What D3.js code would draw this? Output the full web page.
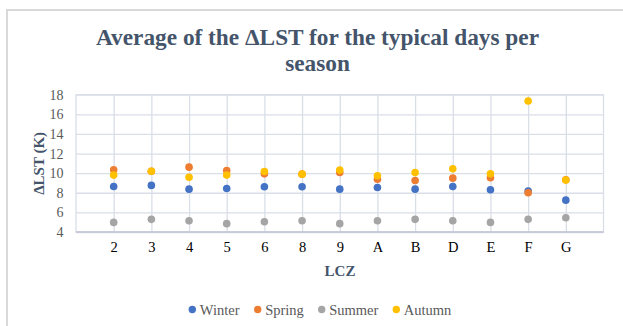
<!DOCTYPE html>
<html>
<head>
<meta charset="utf-8">
<script src="https://cdn.jsdelivr.net/npm/d3@7"></script>
<style>
  html, body { margin: 0; padding: 0; background: #fff; }
  svg { display: block; }
</style>
</head>
<body>
<svg id="chart" width="623" height="326"></svg>
<script>
// Local climate zones on the x axis
const categories = ["2", "3", "4", "5", "6", "8", "9", "A", "B", "D", "E", "F", "G"];

// Seasonal averages of ΔLST (K) per LCZ
const winter = [8.64, 8.75, 8.37, 8.44, 8.61, 8.61, 8.37, 8.54, 8.37, 8.64, 8.31, 8.17, 7.25];
const spring = [10.34, 10.2, 10.61, 10.27, 9.93, 9.9, 10.07, 9.39, 9.25, 9.49, 9.53, 8.0, 9.33];
const summer = [4.98, 5.29, 5.15, 4.85, 5.05, 5.15, 4.85, 5.15, 5.29, 5.15, 4.98, 5.29, 5.46];
const autumn = [9.80, 10.2, 9.59, 9.80, 10.17, 9.90, 10.31, 9.73, 10.07, 10.44, 9.93, 17.36, 9.29];

const seriesNames = ["Winter", "Spring", "Summer", "Autumn"];
const seriesColors = ["#4472C4", "#ED7D31", "#A5A5A5", "#FFC000"];
const yTicks = [4, 6, 8, 10, 12, 14, 16, 18];

const series = [winter, spring, summer, autumn].map((vals, k) => ({
  name: seriesNames[k],
  color: seriesColors[k],
  points: vals.map((v, i) => ({ x: i + 1, y: v }))
}));

const svg = d3.select("#chart");
const serif = "'Liberation Serif', 'Times New Roman', serif";
const titleColor = "#44546A";

// Chart frame
svg.append("rect")
  .attr("x", 7).attr("y", 10)
  .attr("width", 640).attr("height", 340)
  .attr("fill", "#fff")
  .attr("stroke", "#D9D9D9").attr("stroke-width", 2);

const plot = { left: 76, right: 603.5, top: 94.7, bottom: 232 };

const x = d3.scaleLinear().domain([0, categories.length + 1]).range([plot.left, plot.right]);
const y = d3.scaleLinear().domain([4, 18]).range([plot.bottom, plot.top]);

const gridColor = "#D9DEE7";

// Horizontal gridlines and y labels
const yAxis = svg.append("g")
  .attr("transform", `translate(${plot.left},0)`)
  .call(d3.axisLeft(y).tickValues(yTicks).tickSizeInner(-(plot.right - plot.left)).tickSizeOuter(0).tickPadding(12.5));
yAxis.select(".domain").remove();
yAxis.selectAll(".tick line").attr("stroke", gridColor).attr("stroke-width", 1.3);
yAxis.selectAll(".tick text")
  .attr("fill", "#595959")
  .style("font-family", serif)
  .style("font-size", "14px");

// Vertical gridlines at each category, labels below
const xAxis = svg.append("g")
  .attr("transform", `translate(0,${plot.bottom})`)
  .call(d3.axisBottom(x)
    .tickValues(d3.range(1, categories.length + 1))
    .tickFormat(i => categories[i - 1])
    .tickSizeInner(-(plot.bottom - plot.top))
    .tickSizeOuter(0)
    .tickPadding(6));
xAxis.select(".domain").remove();
xAxis.selectAll(".tick line").attr("stroke", gridColor).attr("stroke-width", 1.3);
xAxis.selectAll(".tick text")
  .attr("fill", "#000")
  .attr("dy", "0.95em")
  .style("font-family", serif)
  .style("font-size", "14.5px");

// Plot area border
svg.append("rect")
  .attr("x", plot.left).attr("y", plot.top)
  .attr("width", plot.right - plot.left).attr("height", plot.bottom - plot.top)
  .attr("fill", "none").attr("stroke", gridColor).attr("stroke-width", 1.3);
svg.append("line")
  .attr("x1", plot.left).attr("x2", plot.right)
  .attr("y1", plot.bottom).attr("y2", plot.bottom)
  .attr("stroke", "#BFC5D2").attr("stroke-width", 1.5);

// Points, one layer per season
series.forEach(s => {
  svg.append("g").selectAll("circle")
    .data(s.points)
    .join("circle")
    .attr("cx", d => x(d.x))
    .attr("cy", d => y(d.y))
    .attr("r", 3.8)
    .attr("fill", s.color);
});

// Title
const title = svg.append("text")
  .attr("x", 317.5).attr("y", 44.5)
  .attr("text-anchor", "middle")
  .attr("fill", titleColor)
  .style("font-family", serif)
  .style("font-size", "23.3px")
  .style("font-weight", "bold");
title.append("tspan").attr("x", 317.5).text("Average of the ΔLST for the typical days per");
title.append("tspan").attr("x", 317.5).attr("dy", 26).text("season");

// Axis titles
svg.append("text")
  .attr("x", 340).attr("y", 276)
  .attr("text-anchor", "middle")
  .attr("fill", titleColor)
  .style("font-family", serif)
  .style("font-size", "15px")
  .style("font-weight", "bold")
  .text("LCZ");

svg.append("text")
  .attr("transform", `translate(43.5,${(plot.top + plot.bottom) / 2}) rotate(-90)`)
  .attr("text-anchor", "middle")
  .attr("fill", titleColor)
  .style("font-family", serif)
  .style("font-size", "15px")
  .style("font-weight", "bold")
  .text("ΔLST (K)");

// Legend
const legendX = [192.3, 257.7, 321.7, 396.3];
const legend = svg.append("g");
series.forEach((s, k) => {
  legend.append("circle")
    .attr("cx", legendX[k]).attr("cy", 309.5)
    .attr("r", 3.7)
    .attr("fill", s.color);
  legend.append("text")
    .attr("x", legendX[k] + 7.5).attr("y", 314.5)
    .attr("fill", "#595959")
    .style("font-family", serif)
    .style("font-size", "14.5px")
    .text(s.name);
});
</script>
</body>
</html>
